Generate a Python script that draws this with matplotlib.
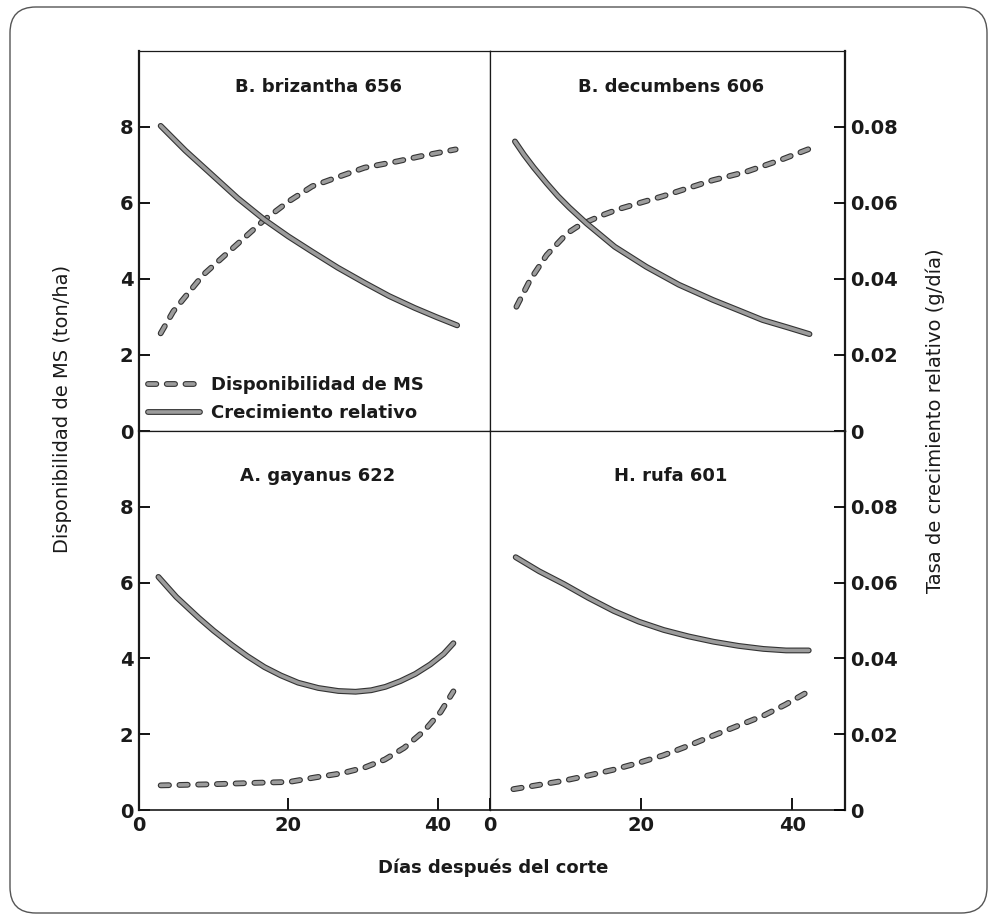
import matplotlib.pyplot as plt
import matplotlib.patheffects as pe
from matplotlib.patches import FancyBboxPatch

plt.rcParams['font.family'] = ['DejaVu Sans']
plt.rcParams['lines.scale_dashes'] = False

# --- data ---
# Disponibilidad de MS (ton/ha), dashed, left axis
# Crecimiento relativo (g/dia), solid, right axis
titles = ["B. brizantha 656", "B. decumbens 606", "A. gayanus 622", "H. rufa 601"]

ms_x_bri = [2.9, 4.6, 8.6, 12.1, 16.8, 20.1, 23.2, 26.3, 30.2, 34.7, 37.7, 42.4]
ms_y_bri = [2.57, 3.15, 4.11, 4.73, 5.56, 6.05, 6.44, 6.66, 6.93, 7.10, 7.23, 7.41]
cr_x_bri = [2.9, 6.2, 9.9, 13.2, 16.8, 20.0, 23.1, 26.6, 30.2, 33.5, 36.9, 39.8, 42.6]
cr_y_bri = [0.0803, 0.0738, 0.0672, 0.0613, 0.0556, 0.0512, 0.0473, 0.0430, 0.0390,
            0.0355, 0.0324, 0.0300, 0.0278]

ms_x_dec = [3.5, 5.3, 7.5, 10.2, 11.5, 12.8, 15.0, 17.2, 22.9, 29.5, 33.9, 38.3, 43.0]
ms_y_dec = [3.27, 3.97, 4.63, 5.20, 5.37, 5.50, 5.69, 5.85, 6.18, 6.60, 6.82, 7.12, 7.48]
cr_x_dec = [3.3, 4.5, 5.8, 7.5, 9.0, 10.5, 12.8, 16.5, 20.7, 25.0, 29.5, 33.0, 36.1,
            39.5, 42.3]
cr_y_dec = [0.0762, 0.0727, 0.0693, 0.0652, 0.0618, 0.0588, 0.0546, 0.0485, 0.0432,
            0.0385, 0.0345, 0.0317, 0.0292, 0.0272, 0.0255]

ms_x_gay = [2.9, 9.9, 16.1, 20.1, 23.6, 27.2, 30.2, 32.9, 35.5, 38.2, 40.4, 42.1]
ms_y_gay = [0.65, 0.68, 0.72, 0.74, 0.86, 0.97, 1.12, 1.33, 1.64, 2.09, 2.59, 3.13]
cr_x_gay = [2.6, 5.0, 8.0, 10.0, 12.4, 14.5, 16.8, 19.0, 21.3, 24.0, 26.7, 29.0, 31.1,
            33.0, 35.0, 37.0, 39.0, 40.8, 42.1]
cr_y_gay = [0.0615, 0.0562, 0.0507, 0.0473, 0.0436, 0.0406, 0.0377, 0.0355, 0.0336,
            0.0322, 0.0314, 0.0312, 0.0316, 0.0325, 0.0340, 0.0359, 0.0384, 0.0412,
            0.0440]

ms_x_ruf = [3.1, 6.4, 9.7, 13.0, 16.3, 19.6, 22.9, 26.2, 29.5, 32.8, 36.1, 39.1, 42.1]
ms_y_ruf = [0.55, 0.66, 0.77, 0.91, 1.06, 1.24, 1.44, 1.69, 1.96, 2.22, 2.48, 2.78, 3.12]
cr_x_ruf = [3.4, 6.5, 9.8, 13.0, 16.4, 19.7, 23.0, 26.3, 29.6, 32.9, 36.2, 39.2, 42.2]
cr_y_ruf = [0.0667, 0.0630, 0.0596, 0.0560, 0.0525, 0.0497, 0.0475, 0.0458, 0.0444,
            0.0433, 0.0425, 0.0421, 0.0421]

ms_x = [ms_x_bri, ms_x_dec, ms_x_gay, ms_x_ruf]
ms_y = [ms_y_bri, ms_y_dec, ms_y_gay, ms_y_ruf]
cr_x = [cr_x_bri, cr_x_dec, cr_x_gay, cr_x_ruf]
cr_y = [cr_y_bri, cr_y_dec, cr_y_gay, cr_y_ruf]

left_ticks = [0, 2, 4, 6, 8]
left_labels = ["0", "2", "4", "6", "8"]
right_ticks = [0, 0.02, 0.04, 0.06, 0.08]
right_labels = ["0", "0.02", "0.04", "0.06", "0.08"]
x_ticks = [0, 20, 40]
x_labels = ["0", "20", "40"]

ink = "#1a1a1a"
line_gray = "#9c9c9c"
outline = [pe.Stroke(linewidth=4.2, foreground="#333333"), pe.Normal()]

fig = plt.figure(figsize=(9.95, 9.18), dpi=100)

# rounded frame around the whole figure
frame = FancyBboxPatch((10 / 995, 1 - 913 / 918), 977 / 995, 906 / 918,
                       boxstyle="round,pad=0,rounding_size=0.026",
                       mutation_aspect=995 / 918,
                       transform=fig.transFigure, fill=False,
                       edgecolor="#555555", linewidth=1.0)
fig.patches.append(frame)

W = 995
H = 918
lefts = [139 / W, 490 / W]
widths = [(490 - 139) / W, (845 - 490) / W]
bottoms = [1 - 431 / H, 1 - 810 / H]
heights = [(431 - 51) / H, (810 - 431) / H]
title_y = [0.905, 0.88]

for i in range(4):
    row = i // 2
    col = i % 2
    ax = fig.add_axes([lefts[col], bottoms[row], widths[col], heights[row]])
    ax2 = ax.twinx()
    ax.set_xlim(0, 47)
    ax.set_ylim(0, 10)
    ax2.set_ylim(0, 0.1)

    dash_line, = ax.plot(ms_x[i], ms_y[i], color=line_gray, linewidth=2.6,
                         linestyle=(0, (6, 7.5)), dash_capstyle="round",
                         path_effects=outline)
    solid_line, = ax2.plot(cr_x[i], cr_y[i], color=line_gray, linewidth=2.6,
                           solid_capstyle="round", solid_joinstyle="round",
                           path_effects=outline)

    # spines
    for s in ax2.spines.values():
        s.set_visible(False)
    for s in ax.spines.values():
        s.set_linewidth(0.9)
        s.set_color(ink)
    if col == 0:
        ax.spines["left"].set_linewidth(1.6)
    else:
        ax.spines["right"].set_linewidth(1.6)
    if row == 1:
        ax.spines["bottom"].set_linewidth(1.2)

    # y ticks
    if col == 0:
        ax.set_yticks(left_ticks)
        ax.set_yticklabels(left_labels, fontsize=14, fontweight="bold", color=ink)
        ax.tick_params(axis="y", direction="in", length=8, width=1.3, pad=4)
        ax2.set_yticks([])
    else:
        ax.set_yticks([])
        ax2.set_yticks(right_ticks)
        ax2.set_yticklabels(right_labels, fontsize=14, fontweight="bold", color=ink)
        ax2.tick_params(axis="y", direction="in", length=8, width=1.3, pad=4)

    # x ticks
    if row == 1:
        ax.set_xticks(x_ticks)
        ax.set_xticklabels(x_labels, fontsize=14, fontweight="bold", color=ink)
        ax.tick_params(axis="x", direction="in", length=9, width=1.3, pad=4)
    else:
        ax.set_xticks([])

    ax.text(0.51, title_y[row], titles[i], transform=ax.transAxes, ha="center",
            va="center", fontsize=13, fontweight="bold", color=ink)

    if i == 0:
        ax2.legend([dash_line, solid_line],
                   ["Disponibilidad de MS", "Crecimiento relativo"],
                   loc="lower left", frameon=False,
                   prop={"size": 13, "weight": "bold"},
                   handlelength=2.9, handletextpad=0.6, labelspacing=0.55,
                   borderaxespad=0.1, borderpad=0.4, labelcolor=ink)

fig.text(63 / W, 1 - 409 / H, "Disponibilidad de MS (ton/ha)", rotation=90,
         ha="center", va="center", fontsize=14, color=ink)
fig.text(935 / W, 1 - 421 / H, "Tasa de crecimiento relativo (g/día)", rotation=90,
         ha="center", va="center", fontsize=14, color=ink)
fig.text(493 / W, 1 - 868 / H, "Días después del corte", ha="center", va="center",
         fontsize=13, fontweight="bold", color=ink)

fig.savefig("out.png", dpi=100)
